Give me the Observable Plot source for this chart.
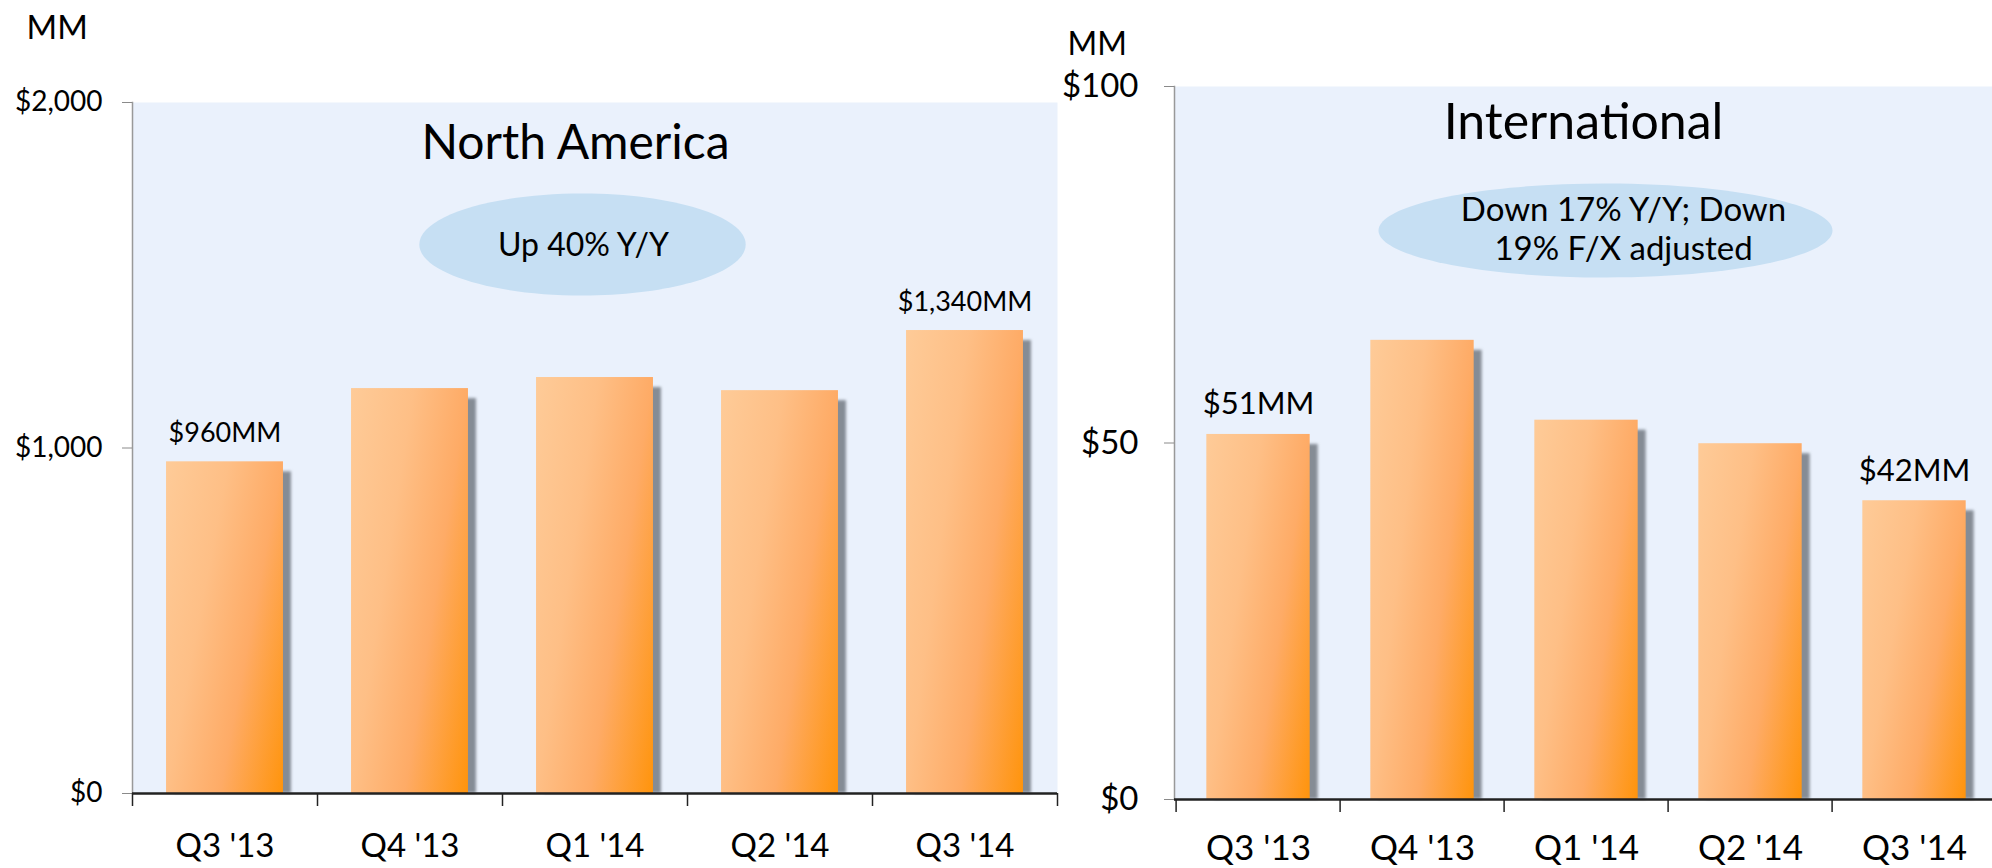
<!DOCTYPE html>
<html><head><meta charset="utf-8">
<script src="https://cdn.jsdelivr.net/npm/d3@7"></script>
<script src="https://cdn.jsdelivr.net/npm/@observablehq/plot@0.6"></script>
<style>
html,body{margin:0;padding:0;background:#fff;overflow:hidden;}
#wrap{position:relative;width:1992px;height:868px;overflow:hidden;font-family:Lato, sans-serif;}
#left{position:absolute;left:0;top:0;width:1060px;height:868px;}
#right{position:absolute;left:1060px;top:0;width:940px;height:868px;}
svg{max-width:none !important;}
</style></head><body>
<div id="wrap"><div id="left"></div><div id="right"></div></div>
<script>
// ---- data ----
const quarters = ["Q3 '13", "Q4 '13", "Q1 '14", "Q2 '14", "Q3 '14"];
const naValues = [960, 1172, 1204, 1166, 1340];
const naLabels = ["$960MM", "", "", "", "$1,340MM"];
const intlValues = [51.2, 64.4, 53.2, 49.9, 41.9];
const intlLabels = ["$51MM", "", "", "", "$42MM"];
const naTicks = [0, 1000, 2000];
const naTickLabels = ["$0", "$1,000", "$2,000"];
const intlTicks = [0, 50, 100];
const intlTickLabels = ["$0", "$50", "$100"];
const naTitle = "North America";
const naNote = ["Up 40% Y/Y"];
const intlTitle = "International";
const intlNote = ["Down 17% Y/Y; Down", "19% F/X adjusted"];
const unitLabel = "MM";

function ellipseSymbol(aspect) {
  return {draw(ctx, size) {
    const ry = Math.sqrt(size / Math.PI), rx = ry * aspect, k = 0.5522847498;
    ctx.moveTo(rx, 0);
    ctx.bezierCurveTo(rx, k * ry, k * rx, ry, 0, ry);
    ctx.bezierCurveTo(-k * rx, ry, -rx, k * ry, -rx, 0);
    ctx.bezierCurveTo(-rx, -k * ry, -k * rx, -ry, 0, -ry);
    ctx.bezierCurveTo(k * rx, -ry, rx, -k * ry, rx, 0);
    ctx.closePath();
  }};
}

function drawChart(cfg) {
  const data = quarters.map((q, i) => ({q, v: cfg.values[i], label: cfg.labels[i]}));
  const bw = (cfg.width - cfg.ml - cfg.mr) / quarters.length;
  const inset = bw * 0.184;
  const gid = cfg.id;
  const defs = () => {
    const g = d3.create("svg:defs");
    const lg = g.append("linearGradient").attr("id", gid + "-grad")
      .attr("x1", 0).attr("y1", 0).attr("x2", 1.19).attr("y2", 0.64);
    [[0, "#FECB98"], [0.35, "#FEBF86"], [0.65, "#FEAB66"], [1, "#FF940C"]]
      .forEach(([o, c]) => lg.append("stop").attr("offset", o).attr("stop-color", c));
    g.append("filter").attr("id", gid + "-blur")
      .attr("x", "-30%").attr("y", "-5%").attr("width", "160%").attr("height", "110%")
      .append("feGaussianBlur").attr("stdDeviation", 1.8);
    return g.node();
  };
  const svg = Plot.plot({
    width: cfg.width, height: cfg.height,
    marginLeft: cfg.ml, marginRight: cfg.mr, marginTop: cfg.mt, marginBottom: cfg.mb,
    style: {fontFamily: "Lato, sans-serif", background: "transparent", overflow: "visible"},
    x: {domain: quarters, padding: 0},
    y: {domain: cfg.domain},
    marks: [
      defs,
      Plot.frame({fill: "#EAF1FC"}),
      Plot.barY(data, {x: "q", y: "v", fill: "#858C95", dx: 8, insetTop: 10, insetLeft: inset, insetRight: inset, ariaDescription: "shadow"}),
      Plot.barY(data, {x: "q", y: "v", fill: `url(#${gid}-grad)`, insetLeft: inset, insetRight: inset}),
      Plot.frame({anchor: "left", stroke: "#999", strokeWidth: 1.5}),
      Plot.ruleY([0], {stroke: "#222", strokeWidth: 2.5}),
      Plot.axisY(cfg.ticks, {tickSize: 10, tickPadding: cfg.yPad, stroke: "#8a8a8a", fill: "#000", fontSize: cfg.yFont,
        tickFormat: d => cfg.tickLabels[cfg.ticks.indexOf(d)], label: null}),
      Plot.axisX(quarters, {tickSize: 13, dx: -bw / 2, fill: "none", stroke: "#222", strokeWidth: 1.5, label: null}),
      Plot.axisX([quarters[quarters.length - 1]], {tickSize: 13, dx: bw / 2, fill: "none", stroke: "#222", strokeWidth: 1.5, label: null}),
      Plot.axisX(quarters, {tickSize: 0, tickPadding: cfg.xPad, fontSize: cfg.xFont, fill: "#000", label: null}),
      Plot.text(data, {x: "q", y: "v", text: "label", dy: cfg.valueDy, fontSize: cfg.valueFont, fill: "#000", lineAnchor: "middle"}),
      Plot.text([unitLabel], {text: d => d, frameAnchor: "top-left", textAnchor: "start", lineAnchor: "middle",
        dx: cfg.mmDx, dy: cfg.mmDy, fontSize: cfg.mmFont, fill: "#000"}),
      Plot.dot([cfg.note], {frameAnchor: "top", dx: cfg.ellDx, dy: cfg.ellDy, r: cfg.ellRy,
        symbol: ellipseSymbol(cfg.ellAspect), fill: "#C6DFF3", stroke: "none"}),
      Plot.text([cfg.note.join("\n")], {text: d => d, frameAnchor: "top", dx: cfg.noteDx, dy: cfg.noteDy,
        fontSize: cfg.noteFont, lineHeight: cfg.noteLH, lineAnchor: "middle", fill: "#000"}),
      Plot.text([cfg.title], {text: d => d, frameAnchor: "top", dx: cfg.titleDx, dy: cfg.titleDy,
        fontSize: cfg.titleFont, lineAnchor: "middle", fill: "#000"})
    ]
  });
  svg.querySelectorAll('[aria-description="shadow"]').forEach(g => g.setAttribute("filter", `url(#${gid}-blur)`));
  return svg;
}

document.getElementById("left").appendChild(drawChart({
  id: "na", width: 1060, height: 868, ml: 132, mr: 3, mt: 102, mb: 75,
  values: naValues, labels: naLabels, domain: [0, 2000], ticks: naTicks, tickLabels: naTickLabels,
  yPad: 20, yFont: 28, xPad: 40, xFont: 33, valueDy: -28, valueFont: 27,
  mmDx: -106, mmDy: -74, mmFont: 33,
  title: naTitle, titleDx: -19.5, titleDy: 41, titleFont: 48,
  note: naNote, noteDx: -11.5, noteDy: 140, noteFont: 32, noteLH: 1.3,
  ellDx: -12.5, ellDy: 142, ellRy: 51, ellAspect: 3.2
}));

document.getElementById("right").appendChild(drawChart({
  id: "intl", width: 940, height: 868, ml: 114, mr: 2, mt: 86, mb: 69,
  values: intlValues, labels: intlLabels, domain: [0, 100], ticks: intlTicks, tickLabels: intlTickLabels,
  yPad: 26, yFont: 33, xPad: 36, xFont: 35, valueDy: -30, valueFont: 31,
  mmDx: -107, mmDy: -42, mmFont: 32,
  title: intlTitle, titleDx: -3, titleDy: 36, titleFont: 50,
  note: intlNote, noteDx: 37, noteDy: 141.5, noteFont: 33, noteLH: 1.18,
  ellDx: 19, ellDy: 144, ellRy: 47, ellAspect: 4.83
}));
</script>
</body></html>
